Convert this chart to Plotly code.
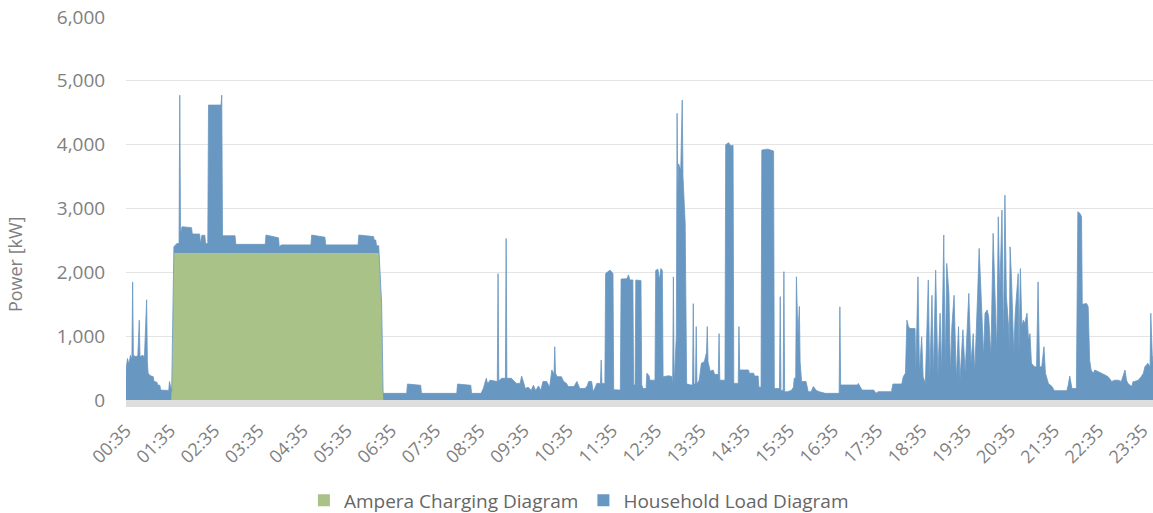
import plotly.graph_objects as go

DAY = "2013-05-14 "

# Ampera charging profile (kW)
charge_times = ["00:35", "01:37", "01:40", "06:18", "06:22", "06:24", "23:49"]
charge_kw = [0, 0, 2300, 2300, 1400, 0, 0]

# household load profile (kW)
load_times = [
    "00:35", "00:37", "00:39", "00:41", "00:43", "00:44", "00:45", "00:48", "00:51", "00:53",
    "00:54", "00:58", "01:00", "01:03", "01:04", "01:05", "01:08", "01:12", "01:13", "01:17",
    "01:18", "01:21", "01:22", "01:33", "01:34", "01:36", "01:40", "01:44", "01:47", "01:48",
    "01:49", "01:51", "02:04", "02:05", "02:15", "02:16", "02:18", "02:22", "02:23", "02:26",
    "02:27", "02:44", "02:45", "02:46", "03:03", "03:04", "03:44", "03:45", "04:02", "04:03",
    "04:06", "04:46", "04:47", "05:05", "05:06", "05:50", "05:51", "06:11", "06:12", "06:14",
    "06:15", "06:18", "06:24", "06:56", "06:57", "07:15", "07:16", "08:04", "08:05", "08:23",
    "08:24", "08:37", "08:40", "08:44", "08:46", "08:49", "08:56", "08:59", "09:00", "09:01",
    "09:05", "09:10", "09:11", "09:12", "09:18", "09:22", "09:25", "09:30", "09:32", "09:34",
    "09:37", "09:41", "09:45", "09:48", "09:51", "09:55", "09:58", "10:01", "10:06", "10:10",
    "10:13", "10:16", "10:17", "10:18", "10:20", "10:26", "10:29", "10:33", "10:35", "10:43",
    "10:47", "10:51", "10:58", "11:01", "11:03", "11:07", "11:09", "11:12", "11:14", "11:19",
    "11:20", "11:21", "11:25", "11:26", "11:32", "11:36", "11:37", "11:46", "11:47", "11:55",
    "11:57", "11:59", "12:03", "12:04", "12:06", "12:07", "12:14", "12:15", "12:17", "12:21",
    "12:22", "12:25", "12:26", "12:33", "12:34", "12:37", "12:39", "12:41", "12:43", "12:44",
    "12:52", "12:56", "12:57", "12:58", "12:59", "13:02", "13:03", "13:04", "13:05", "13:08",
    "13:10", "13:11", "13:13", "13:14", "13:15", "13:16", "13:22", "13:24", "13:25", "13:26",
    "13:28", "13:29", "13:30", "13:33", "13:36", "13:40", "13:43", "13:44", "13:45", "13:48",
    "13:52", "13:54", "13:59", "14:00", "14:01", "14:08", "14:09", "14:13", "14:16", "14:19",
    "14:20", "14:26", "14:27", "14:28", "14:40", "14:41", "14:47", "14:48", "14:53", "14:54",
    "14:57", "14:58", "15:06", "15:14", "15:15", "15:22", "15:23", "15:24", "15:27", "15:28",
    "15:29", "15:33", "15:38", "15:41", "15:42", "15:44", "15:45", "15:47", "15:49", "15:50",
    "15:52", "15:58", "16:01", "16:05", "16:08", "16:12", "16:16", "16:24", "16:43", "16:44",
    "16:45", "17:08", "17:09", "17:12", "17:14", "17:30", "17:33", "17:36", "17:54", "17:56",
    "18:08", "18:10", "18:13", "18:15", "18:17", "18:19", "18:26", "18:27", "18:30", "18:32",
    "18:35", "18:37", "18:40", "18:44", "18:46", "18:49", "18:51", "18:54", "18:57", "19:00",
    "19:02", "19:05", "19:07", "19:09", "19:12", "19:14", "19:16", "19:19", "19:22", "19:25",
    "19:27", "19:31", "19:34", "19:39", "19:42", "19:45", "19:47", "19:51", "19:53", "19:56",
    "19:59", "20:01", "20:04", "20:06", "20:09", "20:12", "20:15", "20:17", "20:19", "20:21",
    "20:24", "20:26", "20:28", "20:30", "20:33", "20:34", "20:35", "20:37", "20:40", "20:42",
    "20:46", "20:47", "20:49", "20:51", "20:53", "20:55", "20:58", "21:00", "21:02", "21:04",
    "21:08", "21:11", "21:13", "21:15", "21:18", "21:21", "21:23", "21:27", "21:32", "21:35",
    "21:52", "21:54", "21:56", "21:59", "22:05", "22:07", "22:10", "22:12", "22:13", "22:19",
    "22:21", "22:23", "22:25", "22:28", "22:30", "22:35", "22:39", "22:44", "22:48", "22:53",
    "22:57", "23:02", "23:06", "23:11", "23:13", "23:15", "23:20", "23:22", "23:24", "23:29",
    "23:33", "23:36", "23:38", "23:42", "23:45", "23:46", "23:48", "23:49",
]
load_kw = [
    470, 650, 560, 700, 640, 1850, 700, 680, 690, 1250,
    680, 700, 660, 1570, 600, 420, 380, 365, 290, 280,
    235, 230, 155, 150, 290, 150, 100, 150, 150, 2476,
    300, 414, 400, 300, 300, 150, 280, 280, 150, 150,
    2320, 2320, 2476, 273, 273, 138, 138, 284, 240, 100,
    130, 130, 284, 250, 130, 130, 284, 260, 205, 205,
    117, 117, 104, 104, 250, 230, 104, 104, 250, 230,
    104, 104, 180, 340, 250, 310, 290, 290, 1980, 300,
    340, 340, 2530, 340, 340, 300, 260, 260, 375, 300,
    180, 200, 150, 230, 150, 220, 150, 290, 290, 200,
    470, 400, 835, 420, 365, 365, 290, 260, 210, 210,
    290, 180, 180, 220, 290, 290, 130, 200, 260, 260,
    626, 260, 260, 1980, 2035, 1980, 160, 155, 1895, 1900,
    1960, 1880, 1880, 235, 235, 1880, 1870, 235, 180, 180,
    420, 380, 310, 310, 2030, 2050, 1880, 2060, 2030, 365,
    380, 365, 200, 1930, 250, 1000, 4490, 3200, 3700, 3600,
    4700, 3500, 3000, 2770, 1500, 250, 235, 235, 1510, 250,
    250, 1150, 250, 310, 575, 600, 750, 1150, 600, 450,
    470, 400, 400, 1040, 310, 310, 4000, 4030, 3980, 3990,
    260, 260, 1150, 470, 470, 420, 420, 375, 375, 200,
    200, 3915, 3930, 3900, 180, 180, 1620, 150, 150, 2010,
    130, 130, 150, 200, 340, 340, 1930, 1000, 1465, 600,
    290, 290, 130, 130, 210, 150, 130, 104, 104, 1460,
    235, 235, 260, 200, 155, 155, 104, 130, 130, 250,
    250, 365, 420, 1250, 1150, 1120, 1120, 420, 1930, 420,
    990, 365, 260, 1880, 310, 1640, 365, 2035, 365, 1360,
    420, 2585, 470, 2140, 1670, 420, 1150, 1640, 310, 1150,
    310, 1100, 420, 1670, 575, 1040, 420, 1670, 2375, 1560,
    680, 1360, 1410, 1300, 680, 2610, 1360, 730, 2870, 1620,
    2975, 835, 3210, 1620, 1150, 730, 2400, 1880, 730, 1360,
    1980, 730, 2060, 1150, 1250, 1200, 1360, 940, 1040, 575,
    520, 520, 1850, 520, 520, 835, 420, 260, 210, 146,
    146, 235, 375, 180, 180, 2950, 2920, 2870, 1500, 1510,
    1460, 626, 470, 420, 470, 445, 420, 390, 365, 290,
    310, 310, 290, 470, 310, 260, 210, 290, 290, 310,
    365, 420, 520, 575, 520, 1360, 700, 600,
]
assert len(load_times) == len(load_kw)

y_ticks = [0, 1000, 2000, 3000, 4000, 5000, 6000]

green = "#a8c287"
blue = "#6897c2"
grey_txt = "#7f7f7f"
font_name = "Open Sans"

fig = go.Figure()

fig.add_trace(go.Scatter(
    x=[DAY + t for t in charge_times],
    y=charge_kw,
    stackgroup="one",
    stackgaps="interpolate",
    mode="lines",
    line=dict(color=green, width=0),
    fillcolor=green,
    showlegend=False,
    hoverinfo="skip",
))

fig.add_trace(go.Scatter(
    x=[DAY + t for t in load_times],
    y=load_kw,
    stackgroup="one",
    mode="lines",
    line=dict(color=blue, width=0.8),
    fillcolor=blue,
    showlegend=False,
    hoverinfo="skip",
))

# legend entries with small square swatches
for name, col in [("Ampera Charging Diagram", green), ("Household Load Diagram", blue)]:
    fig.add_trace(go.Scatter(
        x=[None], y=[None],
        mode="markers",
        marker=dict(symbol="square", size=10, color=col),
        name=name,
    ))

fig.update_layout(
    width=1153,
    height=513,
    margin=dict(l=126, r=0, t=17, b=113, autoexpand=False),
    paper_bgcolor="white",
    plot_bgcolor="white",
    font=dict(family=font_name, color=grey_txt, size=18),
    legend=dict(
        orientation="h",
        x=0.441,
        xanchor="center",
        y=-0.262,
        yanchor="middle",
        font=dict(size=19, color="#666666"),
        itemsizing="constant",
        traceorder="normal",
        itemwidth=30,
    ),
)

# y title sits a bit below the middle of the axis in the original
fig.add_annotation(
    text="Power [kW]",
    textangle=-90,
    xref="paper", yref="paper",
    x=-0.108, y=0.355,
    xanchor="center", yanchor="middle",
    showarrow=False,
    font=dict(size=18, color=grey_txt),
)

fig.update_xaxes(
    type="date",
    range=[DAY + "00:35", DAY + "23:49"],
    tick0=DAY + "00:35",
    dtick=3600000,
    tickformat="%H:%M",
    tickangle=-45,
    showgrid=False,
    zeroline=False,
    showline=True,
    linecolor="#dedede",
    linewidth=7,
    ticks="outside",
    ticklen=6,
    tickcolor="rgba(0,0,0,0)",
    automargin=False,
    tickfont=dict(size=18, color=grey_txt),
)

fig.update_yaxes(
    range=[0, 6000],
    tickvals=y_ticks,
    tickformat=",d",
    showgrid=True,
    gridcolor="#e4e4e4",
    gridwidth=1,
    zeroline=False,
    ticks="outside",
    ticklen=16,
    tickcolor="rgba(0,0,0,0)",
    automargin=False,
    tickfont=dict(size=19, color=grey_txt),
)

fig.write_html(
    "out.html",
    config={"displayModeBar": False},
    post_script="document.body.style.margin='0';document.body.style.overflow='hidden';",
)
